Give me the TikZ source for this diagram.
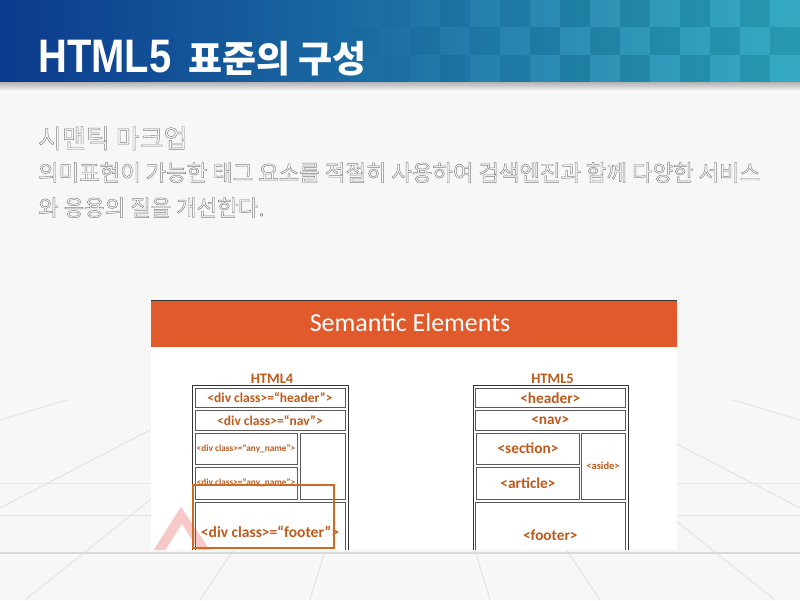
\documentclass[tikz,border=0pt]{standalone}
\usepackage{fontspec}
\setmainfont{Carlito}
\newfontfamily\kr{Noto Sans CJK KR}
\newfontfamily\titlelatin[FakeStretch=0.85]{Liberation Sans}
\usetikzlibrary{calc}

\definecolor{bandL}{HTML}{0C3A8C}
\definecolor{bandM}{HTML}{1566B2}
\definecolor{bandR}{HTML}{2BA7BF}
\definecolor{paper}{HTML}{F7F7F7}
\definecolor{slideorange}{HTML}{E05A2B}
\definecolor{tagbrown}{HTML}{BD5A1C}
\definecolor{hilite}{HTML}{D06A22}
\definecolor{ghost}{HTML}{F6C8C8}

% hollow (stroked) glyphs
\newcommand\hollow[1]{\special{pdf:literal direct 1 Tr 0.45 w}#1\special{pdf:literal direct 0 Tr}}

\tikzset{
  cell/.style={draw=black!65, line width=0.7pt, inner sep=0pt, text=tagbrown,
               font=\bfseries\fontsize{13.5}{14}\selectfont},
  frame/.style={draw=black!80, line width=0.7pt},
  floorline/.style={draw=black!12, line width=0.8pt},
  bodytext/.style={anchor=base west, inner sep=0pt, text=black!50,
                   font=\kr\fontsize{22.3}{23}\selectfont},
}

\begin{document}
\begin{tikzpicture}[x=1pt, y=-1pt]
\useasboundingbox (0,0) rectangle (800,600);
\fill[paper] (0,0) rectangle (800,600);

% perspective floor
\begin{scope}
  \clip (0,400) rectangle (800,600);
  \foreach \bx in {-600,-177,25,200,310,490,600,775,977,1400}
    \draw[floorline] (400,300) -- (\bx,600);
\end{scope}
\draw[draw=black!9, line width=1pt] (0,483) -- (800,483);
\draw[draw=black!11, line width=1pt] (0,515) -- (800,515);
\draw[draw=black!15, line width=2.5pt] (0,553) -- (800,553);

% title band with chequered right half
\shade[left color=bandL, middle color=bandM, right color=bandR] (0,0) rectangle (800,82);
\foreach \i in {0,...,15}{
  \foreach \j/\ya/\yb in {0/0/27,1/27/55,2/55/82}{
    \pgfmathsetmacro\xa{320+30*\i}
    \pgfmathsetmacro\fade{min(1,(\xa-320)/240)}
    \pgfmathtruncatemacro\pty{mod(\i+\j,2)}
    \ifnum\pty=0
      \fill[black, opacity=0.07*\fade] (\xa,\ya) rectangle (\xa+30,\yb);
    \else
      \fill[white, opacity=0.05*\fade] (\xa,\ya) rectangle (\xa+30,\yb);
    \fi
  }
}
\shade[top color=black!30, bottom color=black!10] (0,82) rectangle (800,89);

\node[anchor=base west, inner sep=0pt, text=white] (title) at (38,72)
  {{\titlelatin\bfseries\fontsize{47}{47}\selectfont HTML5}\hspace{17pt}{\kr\bfseries\fontsize{37}{37}\selectfont 표준의 구성}};

% heading and body text
\node[bodytext, font=\kr\fontsize{26}{26}\selectfont] (subhead) at (38,148) {\hollow{시맨틱 마크업}};
\node[bodytext] (line1) at (38,181) {\hollow{의미표현이 가능한 태그 요소를 적절히 사용하여 검색엔진과 함께 다양한 서비스}};
\node[bodytext] (line2) at (38,216) {\hollow{와 응용의 질을 개선한다.}};

% embedded slide
\begin{scope}
  \clip (151,300) rectangle (677,549.5);
  \fill[white] (151,300) rectangle (677,560);
  \fill[slideorange] (151,300) rectangle (677,347);
  \draw[black!80, line width=0.8pt] (151,300.4) -- (677,300.4);
  \node[anchor=base, text=white, font=\fontsize{26}{26}\selectfont] (slidetitle) at (410,331) {Semantic Elements};

  % faint logo mark
  \fill[ghost] (181,507) -- (146,562) -- (218,562) -- cycle;
  \fill[white] (182,524) -- (163,554) -- (201,554) -- cycle;

  % HTML4 layout
  \node[anchor=base, text=tagbrown, font=\bfseries\fontsize{14.5}{15}\selectfont] (lab4) at (272,383) {HTML4};
  \draw[frame] (192,385) rectangle (348,570);
  \node[cell, minimum width=150, minimum height=19] (h4head) at (270,398) {<div class>=“header”>};
  \node[cell, minimum width=150, minimum height=19.5] (h4nav) at (270,420.3) {<div class>=“nav”>};
  \node[cell, minimum width=102, minimum height=31, font=\bfseries\fontsize{9.3}{10}\selectfont] (h4any1) at (246,448.5) {<div class>=“any\_name”>};
  \node[cell, minimum width=45, minimum height=66] (h4side) at (322.5,466) {};
  \node[cell, minimum width=102, minimum height=32, font=\bfseries\fontsize{9.3}{10}\selectfont] (h4any2) at (246,483) {<div class>=“any\_name”>};
  \node[cell, minimum width=150, minimum height=60, font=\bfseries\fontsize{15.5}{16}\selectfont] (h4foot) at (270,532) {<div class>=“footer”>};
  \node[draw=hilite, line width=2.6pt, minimum width=141, minimum height=63, inner sep=0pt] (focus) at (263.5,516.5) {};

  % HTML5 layout
  \node[anchor=base, text=tagbrown, font=\bfseries\fontsize{14.5}{15}\selectfont] (lab5) at (552.5,383) {HTML5};
  \draw[frame] (473,385) rectangle (628,570);
  \node[cell, minimum width=149.5, minimum height=19, font=\bfseries\fontsize{15.3}{16}\selectfont] (h5head) at (550.3,398) {<header>};
  \node[cell, minimum width=149.5, minimum height=19.5, font=\bfseries\fontsize{15.3}{16}\selectfont] (h5nav) at (550.3,420.3) {<nav>};
  \node[cell, minimum width=102.5, minimum height=31, font=\bfseries\fontsize{15.3}{16}\selectfont] (h5sect) at (528,448.5) {<section>};
  \node[cell, minimum width=102.5, minimum height=32, font=\bfseries\fontsize{15.3}{16}\selectfont] (h5art) at (528,483) {<article>};
  \node[cell, minimum width=44, minimum height=66, font=\bfseries\fontsize{10.5}{11}\selectfont] (h5aside) at (603,466) {<aside>};
  \node[cell, minimum width=149.5, minimum height=66, font=\bfseries\fontsize{15.3}{16}\selectfont] (h5foot) at (550.3,535) {<footer>};
\end{scope}
\end{tikzpicture}
\end{document}
